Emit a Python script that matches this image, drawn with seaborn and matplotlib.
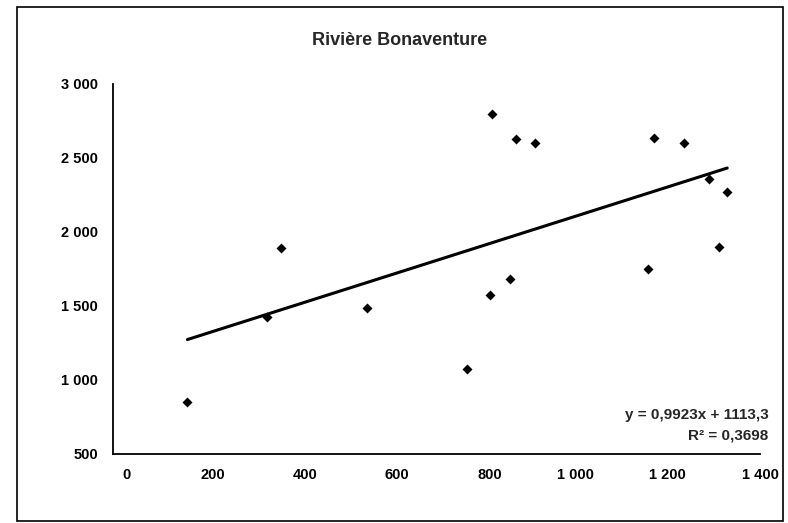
import numpy as np
import pandas as pd
import matplotlib
matplotlib.use("Agg")
import matplotlib.pyplot as plt
import matplotlib.transforms as mtransforms
import seaborn as sns
from matplotlib.patches import Rectangle

# values
superficie = [161, 333, 364, 550, 767, 816, 819, 860, 873, 913,
              1158, 1171, 1235, 1290, 1311, 1329]
debit = [849, 1428, 1894, 1484, 1074, 1572, 2795, 1685, 2626, 2604,
         1750, 2637, 2599, 2358, 1901, 2272]

pente = 0.9923
ordonnee = 1113.3
r2 = 0.3698

x_ticks = [0, 200, 400, 600, 800, 1000, 1200, 1400]
x_labels = ["0", "200", "400", "600", "800", "1 000", "1 200", "1 400"]
y_ticks = [500, 1000, 1500, 2000, 2500, 3000]
y_labels = ["500", "1 000", "1 500", "2 000", "2 500", "3 000"]

titre = "Rivière Bonaventure"


def main():
    sns.set_style("white")
    plt.rcParams["font.family"] = ["Liberation Sans", "DejaVu Sans"]

    df = pd.DataFrame({"x": superficie, "y": debit})
    x_fit = np.array([min(superficie), max(superficie)])
    trend = pd.DataFrame({"x": x_fit, "y": pente * x_fit + ordonnee})

    fig = plt.figure(figsize=(7.88, 5.23), dpi=100)
    ax = fig.add_axes([0.1434, 0.132, 0.8211, 0.7074])

    sns.lineplot(data=trend, x="x", y="y", ax=ax, color="black", linewidth=2.2)
    sns.scatterplot(data=df, x="x", y="y", ax=ax, marker="D", s=26,
                    color="black", edgecolor="black", linewidth=0, zorder=3)

    ax.set_xlim(0, 1400)
    ax.set_ylim(500, 3000)
    ax.set_xticks(x_ticks)
    ax.set_xticklabels(x_labels)
    ax.set_yticks(y_ticks)
    ax.set_yticklabels(y_labels)
    ax.set_xlabel("")
    ax.set_ylabel("")

    for side in ["top", "right"]:
        ax.spines[side].set_visible(False)
    for side in ["left", "bottom"]:
        ax.spines[side].set_color("black")
        ax.spines[side].set_linewidth(1.3)

    ax.tick_params(axis="both", direction="inout", length=6, width=1.1,
                   color="black", labelsize=10.5, labelcolor="black")
    ax.tick_params(axis="x", pad=7)
    ax.tick_params(axis="y", pad=8)
    for lab in ax.get_xticklabels() + ax.get_yticklabels():
        lab.set_fontweight("bold")

    # the short x labels sit a little right of their ticks in the original
    for lab in ax.get_xticklabels():
        txt = lab.get_text()
        if " " not in txt:
            dx = 14 if txt == "0" else 7
            shift = mtransforms.ScaledTranslation(dx / 100, 0, fig.dpi_scale_trans)
            lab.set_transform(lab.get_transform() + shift)

    fig.text(0.507, 0.923, titre, ha="center", va="center",
             fontsize=13, fontweight="bold")

    eq = f"y = {pente:.4f}x + {ordonnee:.1f}".replace(".", ",")
    fig.text(0.975, 0.207, eq, ha="right", va="center",
             fontsize=11, fontweight="bold")
    fig.text(0.975, 0.168, f"R² = {r2:.4f}".replace(".", ","),
             ha="right", va="center", fontsize=11, fontweight="bold")

    # frame around the whole chart
    fig.patches.append(Rectangle((0.022, 0.003), 0.972, 0.984,
                                 transform=fig.transFigure, fill=False,
                                 edgecolor="black", linewidth=1.2))

    fig.savefig("out.png", dpi=100)


if __name__ == "__main__":
    main()
